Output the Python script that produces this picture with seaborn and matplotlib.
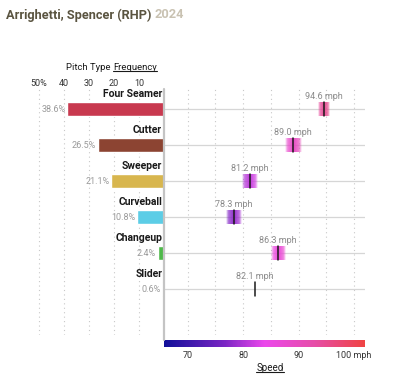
import numpy as np
import matplotlib
matplotlib.use("Agg")
import matplotlib.pyplot as plt
import seaborn as sns
from matplotlib.colors import LinearSegmentedColormap, Normalize
from matplotlib.lines import Line2D

# data
pitches = ["Four Seamer", "Cutter", "Sweeper", "Curveball", "Changeup", "Slider"]
freq = [38.6, 26.5, 21.1, 10.8, 2.4, 0.6]
speed = [94.6, 89.0, 81.2, 78.3, 86.3, 82.1]
spread = [2.0, 3.0, 2.8, 2.8, 2.7, 0.0]
colors = ["#c8394f", "#8c4432", "#d8b64e", "#5ccde6", "#4fb94a", "#d8c83c"]
freq_ticks = [50, 40, 30, 20, 10]
freq_ticklabels = ["50%", "40", "30", "20", "10"]
speed_ticks = [70, 80, 90, 100]
speed_ticklabels = ["70", "80", "90", "100 mph"]

sns.set_style("white")
plt.rcParams["font.family"] = ["Roboto", "DejaVu Sans"]

W, H = 400, 379
fig = plt.figure(figsize=(W / 100, H / 100), dpi=100)


def px_axes(x0, y0, x1, y1):
    # axes from pixel box (top-left origin)
    return fig.add_axes([x0 / W, 1 - y1 / H, (x1 - x0) / W, (y1 - y0) / H])


top, bot = 88, 335
row0, step = 109, 36
ylim = ((bot - row0) / step, (top - row0) / step)

axL = px_axes(10, top, 164, bot)
axR = px_axes(164, top, 365, bot)
axC = px_axes(164, 340, 365, 347)

smin, smax = 65.7, 102.0
cmap = LinearSegmentedColormap.from_list(
    "spd", [(0, "#12109a"), (0.3, "#7a26c4"), (0.5, "#ec48ec"),
            (0.75, "#e64ea8"), (1.0, "#f04444")])
norm = Normalize(smin, smax)

df_y = np.arange(len(pitches))

# left: frequency bars
for y, f, c in zip(df_y, freq, colors):
    axL.barh(y, f, height=0.38, color=c, left=0)
axL.set_xlim(61.6, 0)
axL.set_ylim(*ylim)
for t in freq_ticks:
    axL.axvline(t, color="#c8c8c8", lw=0.8, ls=(0, (1, 3)), zorder=0)
for y, f, p in zip(df_y, freq, pitches):
    axL.text(f + 0.8, y, f"{f}%", ha="right", va="center", fontsize=6.5, color="#9a9a9a")
    axL.text(0.7, y - 0.27, p, ha="right", va="bottom", fontsize=7.5, fontweight="bold",
             color="#1a1a1a")
axL.axis("off")

# right: speed marks
axR.set_xlim(smin, smax)
axR.set_ylim(*ylim)
for t in range(70, 101, 5):
    axR.axvline(t, color="#c8c8c8", lw=0.8, ls=(0, (1, 3)), zorder=0)
for y, s, sp in zip(df_y, speed, spread):
    axR.axhline(y, color="#d6d6d6", lw=0.9, zorder=1)
    h = 0.19
    if sp > 0:
        xs = np.linspace(s - sp / 2, s + sp / 2, 60)
        t = np.linspace(-1, 1, 60)
        alpha = np.clip(1.25 * (1 - t ** 4), 0, 1) * (0.55 + 0.45 * (1 - np.abs(t)))
        rgba = cmap(norm(xs))
        rgba[:, 3] = alpha
        img = np.repeat(rgba[None, :, :], 8, axis=0)
        axR.imshow(img, extent=[s - sp / 2, s + sp / 2, y + h, y - h], aspect="auto",
                   interpolation="bilinear", zorder=2)
    axR.plot([s, s], [y - h, y + h], color="#1a1a1a", lw=1.1, zorder=3)
    axR.text(s, y - h - 0.04, f"{s} mph", ha="center", va="bottom", fontsize=6.5,
             color="#8a8a8a")
axR.set_xlim(smin, smax)
axR.set_ylim(*ylim)
axR.axis("off")

# separator line
fig.add_artist(Line2D([164 / W, 164 / W], [1 - 89 / H, 1 - 340 / H], color="#c4c4c4",
                      lw=1.6, transform=fig.transFigure))

# colorbar
grad = np.linspace(smin, smax, 300)[None, :]
axC.imshow(grad, cmap=cmap, norm=norm, aspect="auto", extent=[smin, smax, 0, 1])
axC.set_xlim(smin, smax)
axC.axis("off")
for t, lab in zip(speed_ticks, speed_ticklabels):
    x = 164 + (t - smin) / (smax - smin) * 201
    fig.text(x / W, 1 - 356 / H, lab, ha="center", va="center", fontsize=6.5, color="#333333")

# frequency tick labels
for t, lab in zip(freq_ticks, freq_ticklabels):
    x = 164 - t * 2.5
    fig.text(x / W, 1 - 83 / H, lab, ha="center", va="center", fontsize=6.5, color="#333333")

renderer = fig.canvas.get_renderer()


def underline(txt):
    bb = txt.get_window_extent(renderer)
    yb = bb.y0 + 1.5
    fig.add_artist(Line2D([bb.x0 / W, bb.x1 / W], [yb / H, yb / H], color="#1a1a1a",
                          lw=0.8, transform=fig.transFigure))


t1 = fig.text(66 / W, 1 - 68 / H, "Pitch Type ", ha="left", va="center", fontsize=6.8,
              color="#1a1a1a")
bb = t1.get_window_extent(renderer)
t2 = fig.text(bb.x1 / W, 1 - 68 / H, "Frequency", ha="left", va="center", fontsize=6.8,
              color="#1a1a1a")
underline(t2)

t3 = fig.text(270 / W, 1 - 368 / H, "Speed", ha="center", va="center", fontsize=7,
              color="#1a1a1a")
underline(t3)

# title
tt = fig.text(6 / W, 1 - 15 / H, "Arrighetti, Spencer (RHP) ", ha="left", va="center",
              fontsize=9.2, fontweight="bold", color="#5a5440")
bb = tt.get_window_extent(renderer)
fig.text(bb.x1 / W, 1 - 15 / H, "2024", ha="left", va="center", fontsize=9.2,
         fontweight="bold", color="#c9c2b2")

fig.savefig("out.png", dpi=100)
